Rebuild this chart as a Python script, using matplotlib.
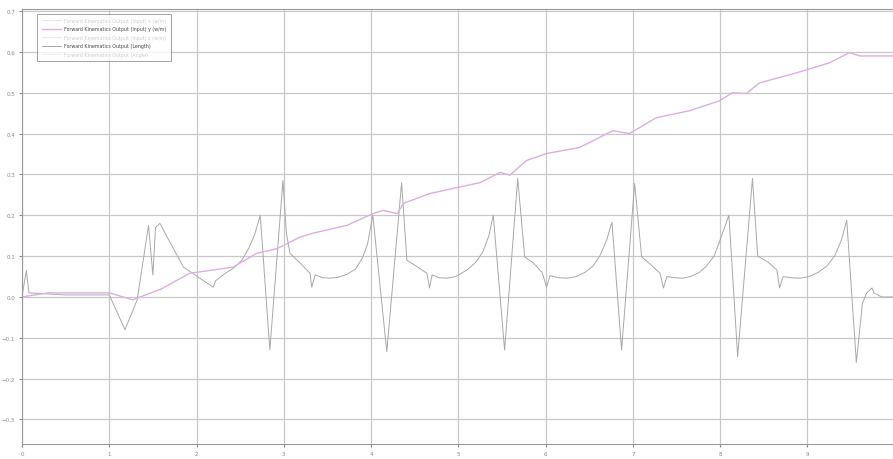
import numpy as np
import matplotlib.pyplot as plt

# pink trace (forward kinematics output y)
t_pink = [0.0, 0.3, 1.0, 1.27, 1.6, 1.92, 2.42, 2.69, 2.92, 3.18, 3.33, 3.72, 4.02, 4.14, 4.30, 4.37,
          4.67, 5.25, 5.48, 5.59, 5.78, 6.01, 6.39, 6.77, 6.96, 7.27, 7.65, 7.99, 8.14, 8.30, 8.45,
          8.88, 9.25, 9.48, 9.60, 9.98]
y_pink = [0.0, 0.01, 0.01, -0.007, 0.02, 0.058, 0.073, 0.107, 0.118, 0.146, 0.156, 0.175, 0.204, 0.212,
          0.204, 0.229, 0.253, 0.28, 0.305, 0.298, 0.334, 0.351, 0.366, 0.407, 0.400, 0.439, 0.456,
          0.480, 0.500, 0.498, 0.524, 0.549, 0.573, 0.598, 0.59, 0.59]

# gray trace (forward kinematics output length)
t_gray = [0.0, 0.05, 0.08, 0.5, 1.0, 1.18, 1.32, 1.45, 1.5, 1.53, 1.58, 1.85, 2.19, 2.22,
          2.33, 2.42, 2.52, 2.60, 2.67, 2.73, 2.84, 2.99,
          3.03, 3.07, 3.20, 3.30, 3.32, 3.36, 3.45, 3.53, 3.62, 3.72, 3.82, 3.90, 3.96, 4.02, 4.18, 4.35,
          4.41, 4.52, 4.64, 4.67, 4.70, 4.78, 4.87, 4.97, 5.10, 5.20, 5.28, 5.35, 5.40, 5.53, 5.68,
          5.76, 5.85, 5.96, 6.01, 6.05, 6.15, 6.25, 6.35, 6.45, 6.54, 6.62, 6.70, 6.76, 6.87, 7.02,
          7.10, 7.20, 7.31, 7.35, 7.39, 7.48, 7.57, 7.66, 7.76, 7.84, 7.93, 8.00, 8.10, 8.20, 8.37,
          8.43, 8.55, 8.65, 8.68, 8.72, 8.82, 8.92, 9.02, 9.12, 9.22, 9.31, 9.39, 9.45, 9.56,
          9.63, 9.68, 9.74, 9.76, 9.85, 9.98]
y_gray = [0.0, 0.065, 0.01, 0.005, 0.005, -0.08, -0.007, 0.175, 0.054, 0.17, 0.18, 0.073, 0.024, 0.04,
          0.058, 0.07, 0.09, 0.12, 0.155, 0.2, -0.13, 0.285,
          0.156, 0.107, 0.08, 0.058, 0.024, 0.054, 0.047, 0.046, 0.048, 0.055, 0.068, 0.095, 0.13, 0.2, -0.134, 0.28,
          0.09, 0.075, 0.058, 0.022, 0.054, 0.047, 0.046, 0.05, 0.066, 0.085, 0.11, 0.15, 0.2, -0.13, 0.29,
          0.098, 0.085, 0.06, 0.024, 0.052, 0.047, 0.046, 0.05, 0.06, 0.075, 0.1, 0.14, 0.183, -0.13, 0.278,
          0.098, 0.08, 0.058, 0.022, 0.05, 0.047, 0.046, 0.05, 0.06, 0.075, 0.1, 0.14, 0.2, -0.146, 0.29,
          0.1, 0.085, 0.066, 0.022, 0.05, 0.047, 0.046, 0.05, 0.06, 0.075, 0.1, 0.14, 0.188, -0.16,
          -0.015, 0.01, 0.022, 0.01, 0.0, 0.0]

labels = ['Forward Kinematics Output (Input) x (w/m)',
          'Forward Kinematics Output (Input) y (w/m)',
          'Forward Kinematics Output (Input) z (w/m)',
          'Forward Kinematics Output (Length)',
          'Forward Kinematics Output (Angle)']

fig = plt.figure(figsize=(8.93, 4.6), dpi=100)
ax = fig.add_axes([0.0246, 0.0326, 0.9754, 0.9457])

ax.plot(t_gray, y_gray, color='#a8a8a8', lw=0.7)
ax.plot(t_pink, y_pink, color='#dcaee0', lw=1.0)

# legend handles (three hidden channels drawn faint)
h = [plt.Line2D([], [], color='#f0e4ea', lw=0.8),
     plt.Line2D([], [], color='#dcaee0', lw=1.0),
     plt.Line2D([], [], color='#ececec', lw=0.8),
     plt.Line2D([], [], color='#a8a8a8', lw=0.7),
     plt.Line2D([], [], color='#efefef', lw=0.8)]
leg = ax.legend(h, labels, loc='upper left', bbox_to_anchor=(0.015, 0.995), fontsize=3.4,
                frameon=True, fancybox=False, edgecolor='#777777', handlelength=4,
                borderpad=0.9, labelspacing=0.75)
leg.get_frame().set_linewidth(0.6)
for i, txt in enumerate(leg.get_texts()):
    txt.set_color('#444444' if i in (1, 3) else '#cccccc')

ax.set_xlim(0, 9.98)
ax.set_ylim(-0.36, 0.705)
ax.set_xticks(range(10))
ax.set_yticks(np.round(np.arange(-0.3, 0.71, 0.1), 1))
ax.grid(True, color='#c8c8c8', lw=0.9)
ax.tick_params(labelsize=4, colors='#888888', length=2, pad=3)
for s in ['left', 'bottom', 'top']:
    ax.spines[s].set_color('#999999')
ax.spines['right'].set_visible(False)

fig.savefig('out.png', dpi=100)
